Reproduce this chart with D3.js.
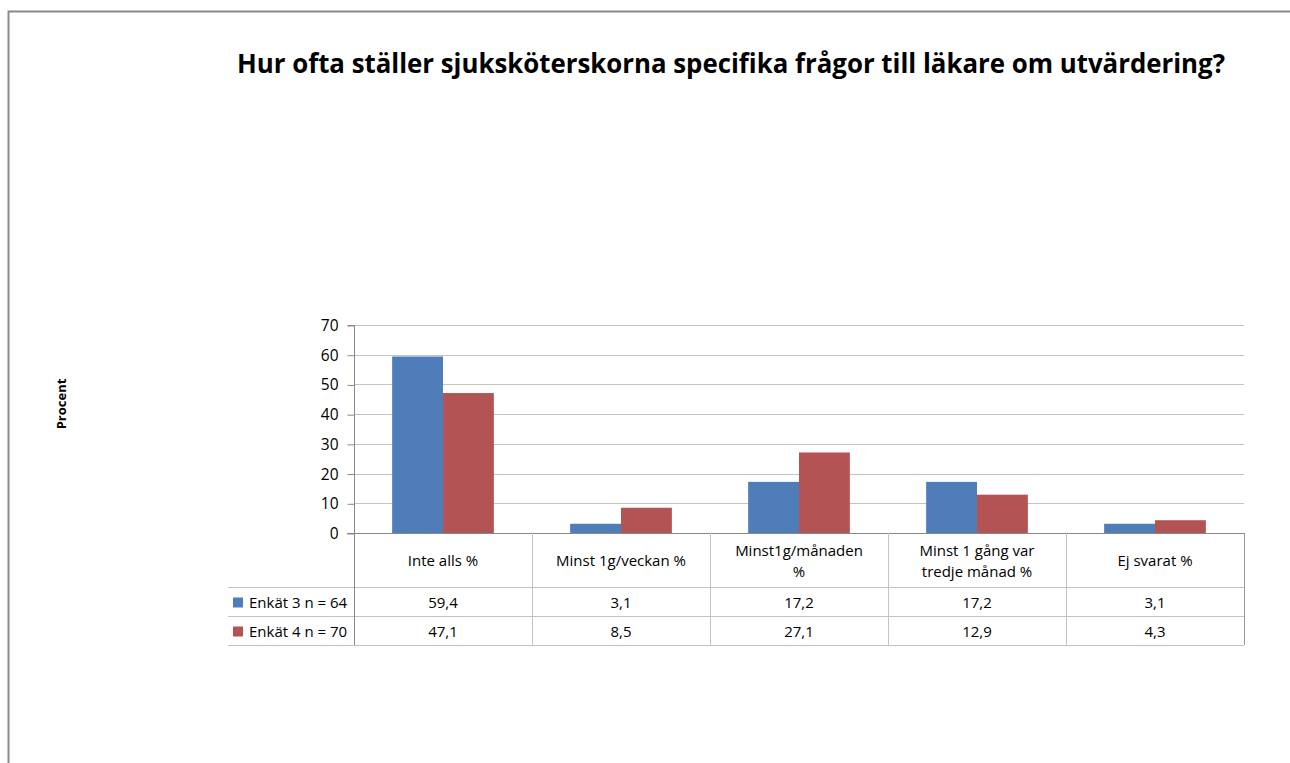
<!DOCTYPE html>
<html>
<head>
<meta charset="utf-8">
<script src="https://cdn.jsdelivr.net/npm/d3@7"></script>
<style>
  html, body { margin: 0; padding: 0; background: #fff; }
  svg { display: block; font-family: "Open Sans", "Liberation Sans", sans-serif; }
</style>
</head>
<body>
<svg id="chart" width="1290" height="763"></svg>
<script>
// Survey answers, in percent
const categories = [
  ["Inte alls %"],
  ["Minst 1g/veckan %"],
  ["Minst1g/månaden", "%"],
  ["Minst 1 gång var", "tredje månad %"],
  ["Ej svarat %"]
];
const seriesNames = ["Enkät 3 n = 64", "Enkät 4 n = 70"];
const enkat3 = [59.4, 3.1, 17.2, 17.2, 3.1];
const enkat4 = [47.1, 8.5, 27.1, 12.9, 4.3];
const seriesValues = [enkat3, enkat4];
const yTicks = [0, 10, 20, 30, 40, 50, 60, 70];
const colors = ["#4F7DBA", "#B45353"];
const title = "Hur ofta ställer sjuksköterskorna specifika frågor till läkare om utvärdering?";
const yLabel = "Procent";

const fmt = v => d3.format(".1f")(v).replace(".", ",");

const svg = d3.select("#chart");

// Outer frame
svg.append("path")
  .attr("d", "M8.5,763 V11.5 H1290")
  .attr("fill", "none").attr("stroke", "#8a8a8a").attr("stroke-width", 2);

// Title, condensed to its width
svg.append("text")
  .attr("x", 237).attr("y", 73)
  .attr("font-weight", "bold")
  .attr("font-size", 26)
  .attr("fill", "#000")
  .attr("textLength", 988)
  .attr("lengthAdjust", "spacingAndGlyphs")
  .text(title);

// Y axis title
svg.append("text")
  .attr("transform", "translate(66,404) rotate(-90)")
  .attr("text-anchor", "middle")
  .attr("font-weight", "bold")
  .attr("font-size", 13)
  .text(yLabel);

// Plot area
const plotLeft = 354, plotRight = 1244, plotTop = 325, plotBottom = 533;
const x0 = d3.scaleBand().domain(d3.range(categories.length)).range([plotLeft, plotRight]).paddingInner(0).paddingOuter(0);
const x1 = d3.scaleBand().domain(d3.range(seriesValues.length)).range([0, x0.bandwidth()]).paddingInner(0).paddingOuter(0.75);
const y = d3.scaleLinear().domain([0, 70]).range([plotBottom, plotTop]);

// Gridlines
svg.append("g").selectAll("line").data(yTicks.filter(t => t > 0)).join("line")
  .attr("x1", plotLeft).attr("x2", plotRight)
  .attr("y1", d => Math.round(y(d)) + 0.5).attr("y2", d => Math.round(y(d)) + 0.5)
  .attr("stroke", "#c3c3c3").attr("stroke-width", 1);

// Bars
svg.append("g").selectAll("g").data(seriesValues).join("g")
  .attr("fill", (d, i) => colors[i])
  .each(function(vals, si) {
    d3.select(this).selectAll("rect").data(vals).join("rect")
      .attr("x", (v, ci) => x0(ci) + x1(si))
      .attr("width", x1.bandwidth())
      .attr("y", v => y(v))
      .attr("height", v => plotBottom - y(v));
  });

// Y axis
const yAxis = d3.axisLeft(y).tickValues(yTicks).tickSize(7).tickPadding(9);
const ya = svg.append("g").attr("transform", `translate(${plotLeft + 0.5},0.5)`).call(yAxis);
ya.select(".domain").attr("stroke", "#888").attr("d", `M-7,${plotTop}H0V${plotBottom}`);
ya.selectAll(".tick line").attr("stroke", "#888");
ya.selectAll(".tick text").attr("font-size", 15.5).attr("fill", "#000")
  .attr("font-family", "\"Open Sans\", sans-serif");

// Data table below the plot
const rowTops = [plotBottom, 587, 616, 645];
const tableLeft = 228;
const tg = svg.append("g");
// horizontal rules
tg.append("line").attr("x1", plotLeft - 7).attr("x2", plotRight).attr("y1", plotBottom + 0.5).attr("y2", plotBottom + 0.5)
  .attr("stroke", "#888");
[587, 616, 645].forEach(yy => {
  tg.append("line").attr("x1", tableLeft).attr("x2", plotRight).attr("y1", yy + 0.5).attr("y2", yy + 0.5)
    .attr("stroke", "#c3c3c3");
});
// vertical rules
const bounds = d3.range(categories.length + 1).map(i => i < categories.length ? x0(i) : plotRight);
bounds.forEach(bx => {
  tg.append("line").attr("x1", bx + 0.5).attr("x2", bx + 0.5).attr("y1", plotBottom).attr("y2", 645)
    .attr("stroke", "#c3c3c3");
});
tg.append("line").attr("x1", plotLeft + 0.5).attr("x2", plotLeft + 0.5).attr("y1", plotBottom).attr("y2", 645).attr("stroke", "#888");
tg.append("line").attr("x1", plotRight + 0.5).attr("x2", plotRight + 0.5).attr("y1", plotBottom).attr("y2", 645).attr("stroke", "#999");

// category headers
categories.forEach((lines, ci) => {
  const cx = x0(ci) + x0.bandwidth() / 2;
  const midY = (rowTops[0] + rowTops[1]) / 2 + 1;
  const lh = 21;
  lines.forEach((ln, li) => {
    tg.append("text")
      .attr("x", cx)
      .attr("y", midY + (li - (lines.length - 1) / 2) * lh)
      .attr("dy", "0.35em")
      .attr("text-anchor", "middle")
      .attr("font-size", 15)
      .text(ln);
  });
});

// value rows with legend keys
seriesValues.forEach((vals, si) => {
  const cy = (rowTops[si + 1] + rowTops[si + 2]) / 2 + 1;
  tg.append("rect").attr("x", 233).attr("y", cy - 5).attr("width", 10).attr("height", 10).attr("fill", colors[si]);
  tg.append("text").attr("x", 249).attr("y", cy).attr("dy", "0.35em")
    .attr("font-size", 15).text(seriesNames[si]);
  vals.forEach((v, ci) => {
    tg.append("text")
      .attr("x", x0(ci) + x0.bandwidth() / 2)
      .attr("y", cy).attr("dy", "0.35em")
      .attr("text-anchor", "middle")
      .attr("font-size", 15)
      .text(fmt(v));
  });
});
</script>
</body>
</html>
